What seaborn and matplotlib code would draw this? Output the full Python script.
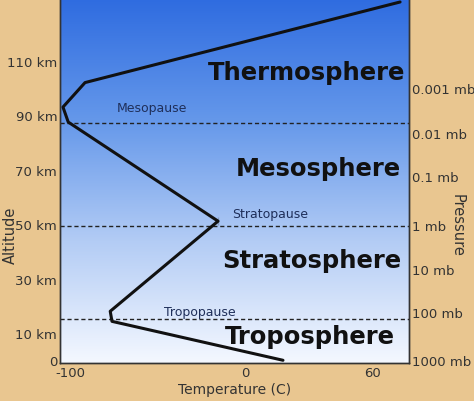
import numpy as np
import pandas as pd
import matplotlib
matplotlib.use("Agg")
import matplotlib.pyplot as plt
from matplotlib.colors import LinearSegmentedColormap
import seaborn as sns

# temperature profile (deg C, km)
temp = [21.7, -76, -77, -15.4, -15.4, -101, -104, -91.4, 88.6]
alt = [0, 14.3, 18, 52.6, 49.6, 87.5, 93, 102, 131.6]

alt_ticks = [0, 10, 30, 50, 70, 90, 110]
alt_labels = ["0", "10 km", "30 km", "50 km", "70 km", "90 km", "110 km"]
temp_ticks = [-100, 0, 73]
temp_labels = ["-100", "0", "60"]
press_pos = [0, 17.6, 33.5, 49.6, 67.6, 83.5, 100]
press_labels = ["1000 mb", "100 mb", "10 mb", "1 mb", "0.1 mb", "0.01 mb", "0.001 mb"]
pauses = [15, 49.3, 87]
pause_names = ["Tropopause", "Stratopause", "Mesopause"]
pause_x = [-46, -7.4, -73]
pause_y = [18, 54, 93]
layers = ["Troposphere", "Stratosphere", "Mesosphere", "Thermosphere"]
layer_pos = [(37, 8.8), (38, 37), (42, 70.5), (35, 106)]

xlim = (-105.7, 93.7)
ylim = (-1, 132.7)
beige = "#E9C690"
txt = "#333333"

sns.set_theme(style="white")
fig = plt.figure(figsize=(4.74, 4.02), dpi=100, facecolor=beige)
ax = fig.add_axes([60 / 474, 38 / 402, 349 / 474, 364 / 402])

cmap = LinearSegmentedColormap.from_list("sky", ["#F4F8FF", "#B3CCF5", "#6598EA", "#2F6CE0"])
grad = np.linspace(0, 1, 256).reshape(-1, 1)
ax.imshow(grad, cmap=cmap, origin="lower", aspect="auto",
          extent=[xlim[0], xlim[1], ylim[0], ylim[1]], zorder=0)

for y in pauses:
    ax.axhline(y, color="#222222", lw=1, ls=(0, (3, 2)), zorder=1)

df = pd.DataFrame({"temp": temp, "alt": alt})
sns.lineplot(data=df, x="temp", y="alt", sort=False, color="#111111", lw=2.2, ax=ax, zorder=3)

for name, x, y in zip(pause_names, pause_x, pause_y):
    ax.text(x, y, name, fontsize=9, color="#1f2f5a", ha="left", va="center", zorder=4)
for name, (x, y) in zip(layers, layer_pos):
    ax.text(x, y, name, fontsize=17.5, fontweight="bold", color="#111111",
            ha="center", va="center", zorder=4)

ax.set_xlim(*xlim)
ax.set_ylim(*ylim)
ax.set_xticks(temp_ticks)
ax.set_xticklabels(temp_labels)
ax.set_yticks(alt_ticks)
ax.set_yticklabels(alt_labels)
ax.tick_params(length=0, labelsize=9.5, labelcolor=txt, pad=2)
ax.set_xlabel("Temperature (C)", fontsize=10, color=txt, labelpad=2)
ax.set_ylabel("")
fig.text(10 / 474, 1 - 235 / 402, "Altitude", rotation=90, fontsize=10.5, color=txt,
         ha="center", va="center")

ax2 = ax.twinx()
ax2.set_ylim(*ylim)
ax2.set_yticks(press_pos)
ax2.set_yticklabels(press_labels)
ax2.tick_params(length=0, labelsize=9.5, labelcolor=txt, pad=2)
ax2.grid(False)
fig.text(457 / 474, 1 - 225 / 402, "Pressure", rotation=-90, fontsize=10.5, color=txt,
         ha="center", va="center")

for a in (ax, ax2):
    for s in a.spines.values():
        s.set_color("#333333")
        s.set_linewidth(1)
    a.spines["top"].set_visible(False)

fig.savefig("out.png", dpi=100, facecolor=beige)
